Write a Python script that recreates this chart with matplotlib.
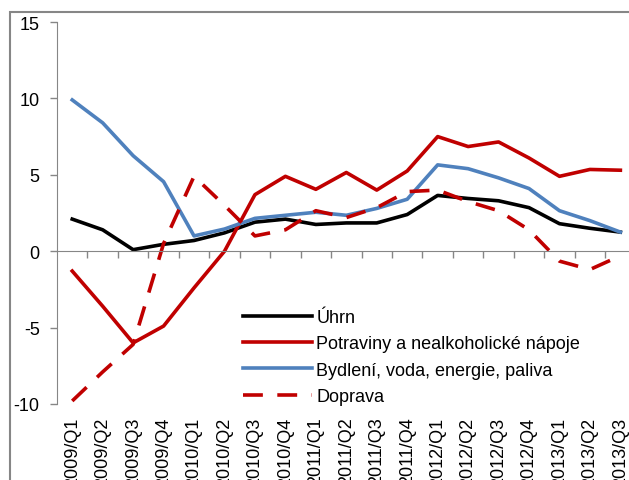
import numpy as np
import matplotlib
matplotlib.use('Agg')
import matplotlib.pyplot as plt
from matplotlib.patches import Rectangle

plt.rcParams['font.family'] = ['Liberation Sans', 'DejaVu Sans']
plt.rcParams['axes.unicode_minus'] = False

# ============================== Data ============================== #
quarters = ['2009/Q1', '2009/Q2', '2009/Q3', '2009/Q4',
            '2010/Q1', '2010/Q2', '2010/Q3', '2010/Q4',
            '2011/Q1', '2011/Q2', '2011/Q3', '2011/Q4',
            '2012/Q1', '2012/Q2', '2012/Q3', '2012/Q4',
            '2013/Q1', '2013/Q2', '2013/Q3']

uhrn = [2.1, 1.4, 0.1, 0.45, 0.7, 1.2, 1.9, 2.1, 1.75, 1.85, 1.85, 2.4,
        3.65, 3.45, 3.3, 2.85, 1.8, 1.5, 1.25]
potraviny = [-1.3, -3.6, -6.0, -4.9, -2.4, 0.0, 3.7, 4.9, 4.05, 5.15, 4.0, 5.25,
             7.5, 6.85, 7.15, 6.1, 4.9, 5.35, 5.3]
bydleni = [9.9, 8.4, 6.25, 4.55, 1.0, 1.45, 2.15, 2.35, 2.55, 2.35, 2.8, 3.4,
           5.65, 5.4, 4.8, 4.1, 2.65, 2.0, 1.25]
doprava = [-9.8, -7.9, -6.1, 0.5, 4.9, 3.0, 1.0, 1.4, 2.65, 2.2, 2.85, 3.9,
           4.0, 3.25, 2.65, 1.4, -0.65, -1.2, -0.3]

labels = ['Úhrn', 'Potraviny a nealkoholické nápoje',
          'Bydlení, voda, energie, paliva', 'Doprava']

# ============================== Plot ============================== #
W, H = 629, 481
fs = 13
fig = plt.figure(figsize=(W / 100, H / 100), dpi=100)

# outer chart border (cropped on the right and bottom)
fig.patches.append(Rectangle((10 / W, -0.2), 1.2, 1.2 - 13 / H,
                             transform=fig.transFigure, fill=False,
                             edgecolor='#868686', lw=1.5))

ax = fig.add_axes([57 / W, 1 - 405 / H, (635.6 - 57) / W, (405 - 23) / H])

x = np.arange(len(quarters))
red = '#C00000'
lw = 2.6
ax.plot(x, uhrn, color='black', lw=lw, label=labels[0])
ax.plot(x, potraviny, color=red, lw=lw, label=labels[1])
ax.plot(x, bydleni, color='#4F81BD', lw=lw, label=labels[2])
ax.plot(x, doprava, color=red, lw=lw, dashes=(5.5, 4.0), label=labels[3])

ax.set_xlim(-0.5, len(quarters) - 0.5)
ax.set_ylim(-10, 15)
ax.set_yticks(np.arange(-10, 16, 5))

gray = '#868686'
for side in ['top', 'right']:
    ax.spines[side].set_visible(False)
ax.spines['left'].set_color(gray)
ax.spines['bottom'].set_color(gray)
ax.spines['bottom'].set_position(('data', 0))

ax.tick_params(axis='y', colors=gray, labelcolor='black', labelsize=fs,
               length=5, width=1, pad=7.5)
ax.set_xticks(x)
ax.set_xticklabels([])
ax.tick_params(axis='x', which='major', length=0)
ax.set_xticks(np.arange(0.5, len(quarters) - 1, 1), minor=True)
ax.tick_params(axis='x', which='minor', colors=gray, length=5, width=1,
               direction='out')

# category labels sit at the bottom of the plot area
sec = ax.secondary_xaxis('bottom')
sec.set_xticks(x)
sec.set_xticklabels(quarters, rotation=90, fontsize=fs)
sec.tick_params(length=0, pad=9)
sec.spines['bottom'].set_visible(False)

leg = ax.legend(loc='upper left', bbox_to_anchor=(243 / W, 1 - 310 / H),
                bbox_transform=fig.transFigure, frameon=False, fontsize=fs,
                handlelength=3.8, handletextpad=0.27, labelspacing=0.52,
                borderpad=0, borderaxespad=0)

fig.savefig('out.png', dpi=100)
